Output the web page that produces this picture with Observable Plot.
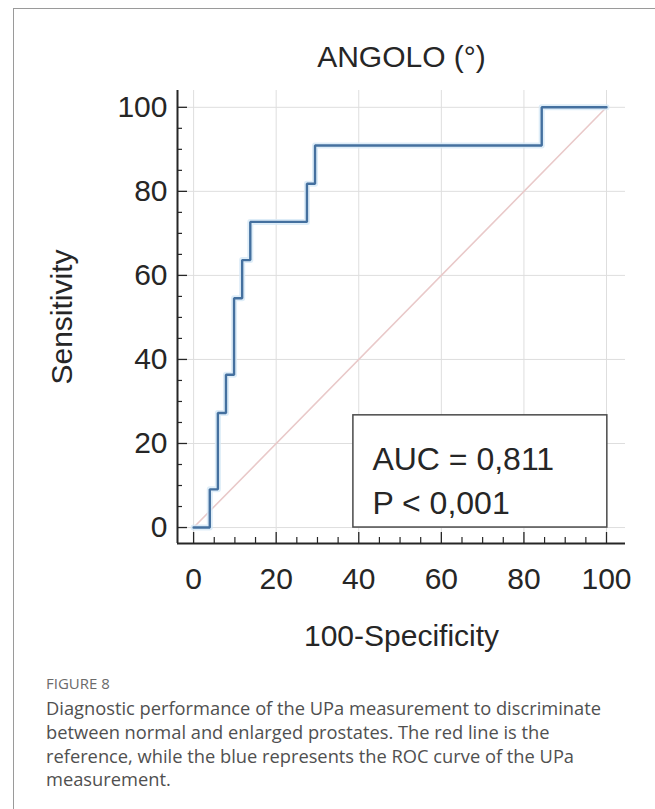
<!DOCTYPE html>
<html><head><meta charset="utf-8">
<script src="https://cdn.jsdelivr.net/npm/d3@7"></script>
<script src="https://cdn.jsdelivr.net/npm/@observablehq/plot@0.6"></script>
<style>
html,body{margin:0;padding:0;background:#fff;}
#wrap{position:relative;width:655px;height:809px;overflow:hidden;background:#fff;}
#frame{position:absolute;left:13px;top:8px;width:700px;height:900px;border-left:1.5px solid #9a9a9a;border-top:1.5px solid #9a9a9a;}
#chart{position:absolute;left:0;top:0;}
#fig{position:absolute;left:46px;top:673px;font-family:"Open Sans",sans-serif;font-size:15px;line-height:20px;color:#6b6b6b;}
#cap{position:absolute;left:46px;top:696px;font-family:"Open Sans",sans-serif;font-size:18.3px;line-height:23.8px;color:#505050;white-space:nowrap;}
</style></head>
<body>
<div id="wrap">
  <div id="frame"></div>
  <div id="chart"></div>
  <div id="fig">FIGURE 8</div>
  <div id="cap">Diagnostic performance of the UPa measurement to discriminate<br>between normal and enlarged prostates. The red line is the<br>reference, while the blue represents the ROC curve of the UPa<br>measurement.</div>
</div>
<script>
// ROC curve points (100-Specificity, Sensitivity)
const fpr = [0, 3.92, 5.88, 7.84, 9.80, 11.76, 13.73, 27.45, 29.41, 84.31, 100];
const tpr = [0, 9.09, 27.27, 36.36, 54.55, 63.64, 72.73, 81.82, 90.91, 100, 100];
// reference diagonal
const refFpr = [0, 100];
const refTpr = [0, 100];
// ticks
const majorTicks = [0, 20, 40, 60, 80, 100];
const minorTicks = [5, 10, 15, 25, 30, 35, 45, 50, 55, 65, 70, 75, 85, 90, 95];
// texts
const titleText = "ANGOLO (°)";
const xLabel = "100-Specificity";
const yLabel = "Sensitivity";
const aucText = ["AUC = 0,811", "P < 0,001"];

const roc = fpr.map((x, i) => ({x, y: tpr[i]}));
const ref = refFpr.map((x, i) => ({x, y: refTpr[i]}));

const xDom = [-3.9, 104.6];
const yDom = [-3.8, 104];
const font = "'Liberation Sans', Arial, sans-serif";
const ink = "#262626";

const chart = Plot.plot({
  width: 655,
  height: 660,
  marginLeft: 177,
  marginRight: 30,
  marginTop: 90,
  marginBottom: 117,
  x: {domain: xDom, label: null},
  y: {domain: yDom, label: null},
  style: {fontFamily: font, background: "transparent", color: ink, overflow: "visible"},
  marks: [
    Plot.gridX(majorTicks, {stroke: "#dedede", strokeOpacity: 1, strokeWidth: 1}),
    Plot.gridY(majorTicks, {stroke: "#dedede", strokeOpacity: 1, strokeWidth: 1}),
    Plot.line(ref, {x: "x", y: "y", stroke: "#e9c9c9", strokeWidth: 1.6}),
    Plot.line(roc, {x: "x", y: "y", curve: "step-after", stroke: "#d6e8f6", strokeWidth: 6, strokeOpacity: 0.8}),
    Plot.line(roc, {x: "x", y: "y", curve: "step-after", stroke: "#44709f", strokeWidth: 2.4, strokeLinejoin: "miter"}),
    Plot.rect([aucText], {x1: () => 38.7, x2: () => 100.2, y1: () => 0, y2: () => 26.7, fill: "white", stroke: "#4a4a4a", strokeWidth: 1.5}),
    Plot.text([aucText.join("\n")], {x: () => 43.3, y: () => 21.1, text: d => d, lineAnchor: "top", textAnchor: "start", fontSize: 32, lineHeight: 1.37, fill: ink}),
    // axis lines
    Plot.ruleX([xDom[0]], {stroke: ink, strokeWidth: 2}),
    Plot.ruleY([yDom[0]], {stroke: ink, strokeWidth: 2}),
    // inward ticks
    Plot.axisX(majorTicks, {anchor: "bottom", tickSize: -11, fill: "none", label: null, stroke: ink, strokeWidth: 1.3}),
    Plot.axisX(minorTicks, {anchor: "bottom", tickSize: -6, fill: "none", label: null, stroke: ink, strokeWidth: 1.2}),
    Plot.axisY(majorTicks, {anchor: "left", tickSize: -10, fill: "none", label: null, stroke: ink, strokeWidth: 1.3}),
    Plot.axisY(minorTicks, {anchor: "left", tickSize: -5, fill: "none", label: null, stroke: ink, strokeWidth: 1.2}),
    // tick labels
    Plot.axisX(majorTicks, {anchor: "bottom", tickSize: 0, tickPadding: 24, fontSize: 30, label: null, fill: ink}),
    Plot.axisY(majorTicks, {anchor: "left", tickSize: 0, tickPadding: 10, fontSize: 30, label: null, fill: ink}),
    // titles
    Plot.text([titleText], {frameAnchor: "top", dy: -33, fontSize: 30, lineAnchor: "middle", textAnchor: "middle", fill: ink}),
    Plot.text([xLabel], {frameAnchor: "bottom", dy: 93, fontSize: 30, lineAnchor: "middle", textAnchor: "middle", fill: ink}),
    Plot.text([yLabel], {frameAnchor: "left", dx: -115, rotate: -90, fontSize: 30, lineAnchor: "middle", textAnchor: "middle", fill: ink})
  ]
});
document.getElementById("chart").appendChild(chart);
</script>
</body></html>
